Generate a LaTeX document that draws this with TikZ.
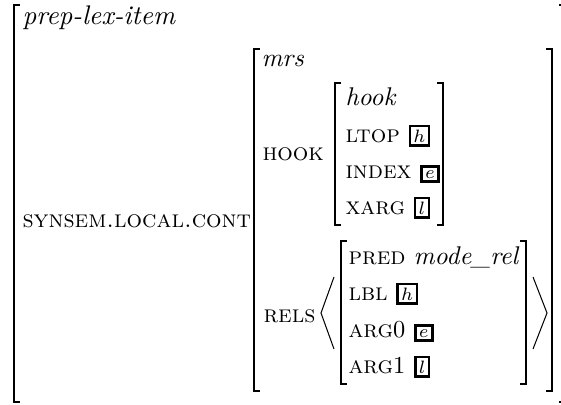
\documentclass[tikz,border=0pt]{standalone}
\usetikzlibrary{positioning}

\begin{document}
\begin{tikzpicture}[
  x=0.39pt, y=-0.39pt,
  attr/.style={inner sep=0pt, anchor=base west, font=\fontsize{9.5}{11}\selectfont},
  type/.style={inner sep=0pt, anchor=base west, font=\itshape},
  tag/.style={draw, line width=1pt, inner sep=1.4pt, font=\scriptsize, anchor=base west, xshift=3.2pt},
  brack/.style={line width=0.7pt},
  angle/.style={line width=0.4pt},
]
  \useasboundingbox (0,0) rectangle (561,404);

  % outer feature structure
  \node[type, font=\fontsize{10.5}{13}\itshape] (prep) at (22,25) {prep-lex-item};
  \node[attr] (synsem) at (22,227) {\textsc{synsem.local.cont}};

  % mrs value
  \node[type] (mrs) at (261,67) {mrs};
  \node[attr] (hookf) at (262,160) {\textsc{hook}};
  \node[attr] (relsf) at (263,322) {\textsc{rels}};

  % hook value
  \node[type] (hook) at (345,106) {hook};
  \node[attr] (ltop) at (345,142) {\textsc{ltop}};
  \node[tag] (ltoptag) at (ltop.base east) {$h$};
  \node[attr] (index) at (345,178) {\textsc{index}};
  \node[tag] (indextag) at (index.base east) {$e$};
  \node[attr] (xarg) at (345,214) {\textsc{xarg}};
  \node[tag] (xargtag) at (xarg.base east) {$l$};

  % relation on the rels list
  \node[attr] (pred) at (348,264) {\textsc{pred} \textit{\fontsize{10}{12}\selectfont mode\_rel}};
  \node[attr] (lbl) at (348,300) {\textsc{lbl}};
  \node[tag] (lbltag) at (lbl.base east) {$h$};
  \node[attr] (argzero) at (348,337) {\textsc{arg}0};
  \node[tag] (argzerotag) at (argzero.base east) {$e$};
  \node[attr] (argone) at (348,373) {\textsc{arg}1};
  \node[tag] (argonetag) at (argone.base east) {$l$};

  % brackets
  \draw[brack] (20,5) -| (14,402) -- (20,402);
  \draw[brack] (559,5) -| (562,402) -- (559,402);
  \draw[brack] (260,49) -| (254,391) -- (260,391);
  \draw[brack] (546,49) -| (552,391) -- (546,391);
  \draw[brack] (341,83) -| (335,225) -- (341,225);
  \draw[brack] (437,83) -| (443,225) -- (437,225);
  \draw[brack] (347,241) -| (341,384) -- (347,384);
  \draw[brack] (520,241) -| (526,384) -- (520,384);

  % list delimiters
  \draw[angle] (334,277) -- (321,313) -- (334,349);
  \draw[angle] (533,277) -- (547,313) -- (533,349);
\end{tikzpicture}
\end{document}
